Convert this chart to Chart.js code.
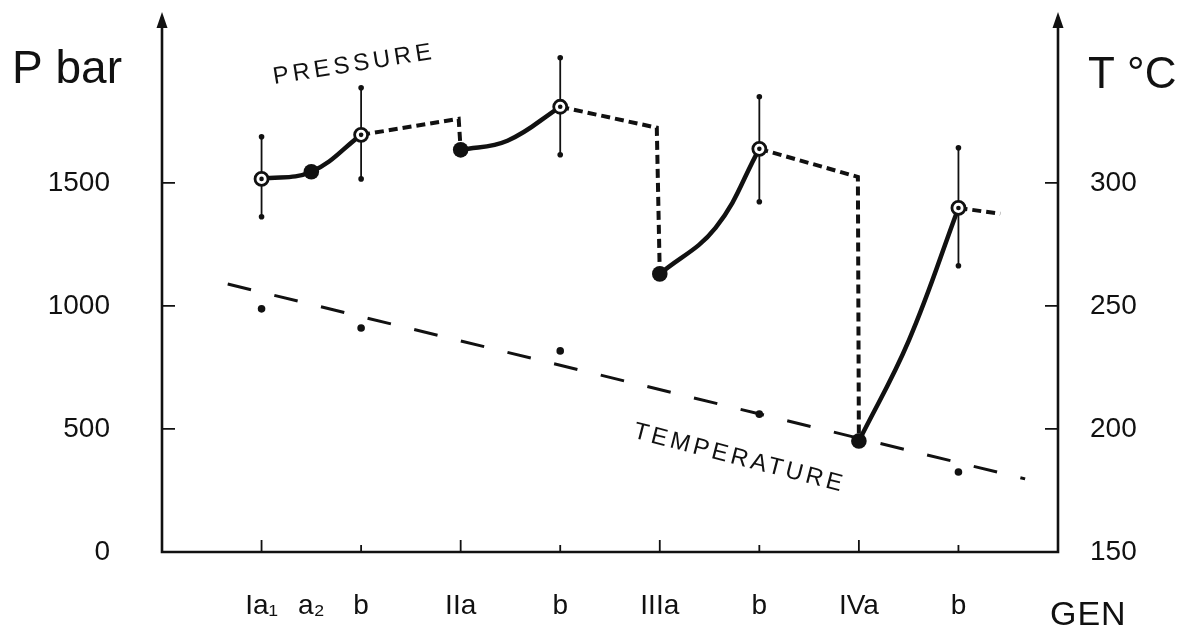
<!DOCTYPE html>
<html><head><meta charset="utf-8">
<script src="https://cdn.jsdelivr.net/npm/chart.js@4.4.1/dist/chart.umd.min.js"></script>
<style>html,body{margin:0;padding:0;background:#fff;} canvas{display:block;}</style>
</head><body>
<canvas id="c" width="1177" height="633"></canvas>
<script>
// ---- data ----
const categories = ['Ia\u2081','a\u2082','b','IIa','b','IIIa','b','IVa','b'];
const genPos = [1,1.5,2,3,4,5,6,7,8];
const pressure = [1516,1545,1695,1634,1809,1130,1638,451,1398];
const openMarker = [true,false,true,false,true,false,true,false,true];
const errLow  = [1362,null,1516,null,1614,null,1423,null,1163];
const errHigh = [1687,null,1886,null,2008,null,1850,null,1642];
const curveMidGen = [3.47,5.56,7.5];
const curveMidP = [1671,1317,858];
const dashCornerGen = [2.98,4.97,6.99,8.42];
const dashCornerP = [1760,1724,1524,1374];
const tempGen = [1,2,4,6,8];
const tempC = [248.8,241,231.7,206,182.5];
const tempTrendGen = [0.66,8.67];
const tempTrendC = [258.9,179.7];
const pTicks = [0,500,1000,1500];
const tTicks = [150,200,250,300];
const genMajor = [1,3,5,7];
const genMinor = [2,4,6,8];

const INK = '#111';
const FONT = "'Liberation Sans', Arial, sans-serif";
const pt = i => ({x: genPos[i], y: pressure[i]});

const datasets = [];
// solid pressure curves
const solidSegs = [
  [pt(0), pt(1), pt(2)],
  [pt(3), {x: curveMidGen[0], y: curveMidP[0]}, pt(4)],
  [pt(5), {x: curveMidGen[1], y: curveMidP[1]}, pt(6)],
  [pt(7), {x: curveMidGen[2], y: curveMidP[2]}, pt(8)]
];
solidSegs.forEach(d => datasets.push({data: d, borderColor: INK, borderWidth: 4.5, tension: 0.4,
  pointRadius: 0, order: 5, yAxisID: 'y', borderCapStyle: 'round'}));
// dashed pressure lines
const dashSegs = [
  [pt(2), {x: dashCornerGen[0], y: dashCornerP[0]}, pt(3)],
  [pt(4), {x: dashCornerGen[1], y: dashCornerP[1]}, pt(5)],
  [pt(6), {x: dashCornerGen[2], y: dashCornerP[2]}, pt(7)],
  [pt(8), {x: dashCornerGen[3], y: dashCornerP[3]}]
];
dashSegs.forEach(d => datasets.push({data: d, borderColor: INK, borderWidth: 4, borderDash: [9,5],
  tension: 0, pointRadius: 0, order: 5, yAxisID: 'y'}));
// error bars
genPos.forEach((g, i) => {
  if (errLow[i] == null) return;
  datasets.push({data: [{x: g, y: errLow[i]}, {x: g, y: errHigh[i]}], borderColor: INK, borderWidth: 1.8,
    pointRadius: 2.8, pointBackgroundColor: INK, pointBorderWidth: 0, order: 6, yAxisID: 'y'});
});
// temperature trend
datasets.push({data: tempTrendGen.map((g, i) => ({x: g, y: tempTrendC[i]})), yAxisID: 'y2',
  borderColor: INK, borderWidth: 3, borderDash: [24, 24], pointRadius: 0, order: 7});
// temperature points
datasets.push({data: tempGen.map((g, i) => ({x: g, y: tempC[i]})), yAxisID: 'y2', showLine: false,
  pointRadius: 3.8, pointBackgroundColor: INK, pointBorderWidth: 0, order: 4});
// filled pressure markers
datasets.push({data: genPos.map((g, i) => openMarker[i] ? null : pt(i)).filter(Boolean), yAxisID: 'y',
  showLine: false, pointRadius: 7.8, pointBackgroundColor: INK, pointBorderWidth: 0, order: 2});
// open (ringed) pressure markers
datasets.push({data: genPos.map((g, i) => openMarker[i] ? pt(i) : null).filter(Boolean), yAxisID: 'y',
  showLine: false, pointRadius: 6.5, pointBackgroundColor: '#fff', pointBorderColor: INK, pointBorderWidth: 2.8, order: 1});
datasets.push({data: genPos.map((g, i) => openMarker[i] ? pt(i) : null).filter(Boolean), yAxisID: 'y',
  showLine: false, pointRadius: 2.3, pointBackgroundColor: INK, pointBorderWidth: 0, order: 0});

const decor = {
  id: 'decor',
  afterDraw(chart) {
    const {ctx, chartArea: a, scales: {x, y, y2}} = chart;
    ctx.save();
    ctx.strokeStyle = INK; ctx.fillStyle = INK; ctx.lineCap = 'butt';
    // axes
    ctx.lineWidth = 2.6;
    ctx.beginPath();
    ctx.moveTo(a.left, a.top + 4); ctx.lineTo(a.left, a.bottom); ctx.lineTo(a.right, a.bottom); ctx.lineTo(a.right, a.top + 4);
    ctx.stroke();
    [a.left, a.right].forEach(ax => {
      ctx.beginPath();
      ctx.moveTo(ax, a.top - 1); ctx.lineTo(ax - 5.5, a.top + 15); ctx.lineTo(ax + 5.5, a.top + 15); ctx.closePath(); ctx.fill();
    });
    // ticks (pointing into the plot)
    ctx.lineWidth = 1.8;
    ctx.beginPath();
    pTicks.filter(v => v > 0).forEach(v => { const py = y.getPixelForValue(v); ctx.moveTo(a.left, py); ctx.lineTo(a.left + 13, py); });
    tTicks.filter(v => v > 150).forEach(v => { const py = y2.getPixelForValue(v); ctx.moveTo(a.right, py); ctx.lineTo(a.right - 13, py); });
    genMajor.forEach(v => { const px = x.getPixelForValue(v); ctx.moveTo(px, a.bottom); ctx.lineTo(px, a.bottom - 12); });
    genMinor.forEach(v => { const px = x.getPixelForValue(v); ctx.moveTo(px, a.bottom); ctx.lineTo(px, a.bottom - 7); });
    ctx.stroke();
    // axis titles
    ctx.textBaseline = 'alphabetic'; ctx.textAlign = 'left';
    ctx.font = `46px ${FONT}`;
    ctx.fillText('P bar', 12, 83);
    ctx.font = `44px ${FONT}`;
    ctx.fillText('T \u00B0C', 1088, 88);
    ctx.font = `34px ${FONT}`;
    ctx.letterSpacing = '1px';
    ctx.fillText('GEN', 1050, 625);
    ctx.letterSpacing = '0px';
    // series labels
    const label = (txt, cx, cy, ang, sp) => {
      ctx.save();
      ctx.translate(cx, cy); ctx.rotate(ang * Math.PI / 180);
      ctx.font = `24px ${FONT}`; ctx.letterSpacing = sp + 'px';
      ctx.textAlign = 'center'; ctx.textBaseline = 'middle';
      ctx.fillText(txt, 0, 0);
      ctx.restore();
    };
    label('PRESSURE', x.getPixelForValue(1.93), y.getPixelForValue(1980), -9, 4);
    label('TEMPERATURE', x.getPixelForValue(5.8), y.getPixelForValue(380), 14.5, 3.5);
    ctx.restore();
  }
};

const noPad = s => { s.paddingTop = 0; s.paddingBottom = 0; };
const tickFont = {family: FONT, size: 28};
new Chart(document.getElementById('c'), {
  type: 'line',
  data: {datasets},
  plugins: [decor],
  options: {
    responsive: false, animation: false, events: [],
    layout: {padding: {top: 13, left: 0, right: 0, bottom: 0}},
    plugins: {legend: {display: false}, tooltip: {enabled: false}},
    scales: {
      x: {type: 'linear', min: 0, max: 9,
        afterBuildTicks: s => { s.ticks = genPos.map(v => ({value: v})); },
        afterFit: s => { s.height = 81; s.paddingLeft = 0; s.paddingRight = 0; },
        grid: {display: false, drawTicks: false}, border: {display: false},
        ticks: {autoSkip: false, maxRotation: 0, minRotation: 0, padding: 37, color: INK, font: tickFont,
          callback: (v, i) => categories[i]}},
      y: {type: 'linear', position: 'left', min: 0, max: 2190,
        afterBuildTicks: s => { s.ticks = pTicks.map(v => ({value: v})); },
        afterFit: s => { s.width = 162; noPad(s); },
        grid: {display: false, drawTicks: false}, border: {display: false},
        ticks: {padding: 52, color: INK, font: tickFont, callback: v => String(v)}},
      y2: {type: 'linear', position: 'right', min: 150, max: 369,
        afterBuildTicks: s => { s.ticks = tTicks.map(v => ({value: v})); },
        afterFit: s => { s.width = 119; noPad(s); },
        grid: {display: false, drawTicks: false}, border: {display: false},
        ticks: {padding: 32, color: INK, font: tickFont, callback: v => String(v)}}
    }
  }
});
</script>
</body></html>
